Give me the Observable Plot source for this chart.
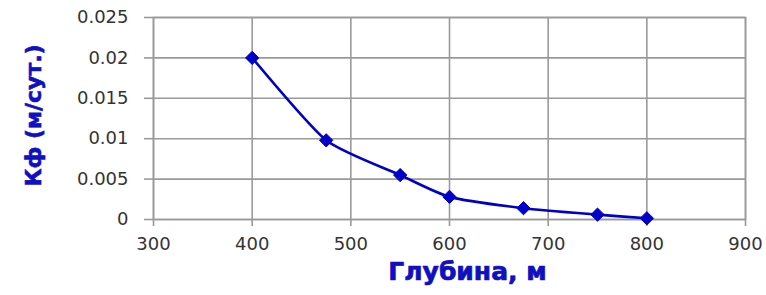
<!DOCTYPE html>
<html>
<head>
<meta charset="utf-8">
<script src="https://cdn.jsdelivr.net/npm/d3@7"></script>
<script src="https://cdn.jsdelivr.net/npm/@observablehq/plot@0.6"></script>
<style>
  html, body { margin: 0; padding: 0; background: #fff; }
</style>
</head>
<body>
<div id="chart"></div>
<script>
const depth = [400, 475, 550, 600, 675, 750, 800];
const kf = [0.02, 0.0098, 0.0055, 0.0028, 0.0014, 0.0006, 0.00015];
const xTicks = [300, 400, 500, 600, 700, 800, 900];
const yTicks = [0, 0.005, 0.01, 0.015, 0.02, 0.025];
const xLabel = "Глубина, м";
const yLabel = "Кф (м/сут.)";

const data = depth.map((d, i) => ({depth: d, kf: kf[i]}));
const gridColor = "#9a9a9a";
const blue = "#0000c8";
const labelBlue = "#1010c0";

const chart = Plot.plot({
  width: 766,
  height: 295,
  marginLeft: 153,
  marginRight: 21,
  marginTop: 17,
  marginBottom: 76,
  style: {fontFamily: "DejaVu Sans", fontSize: "18px", color: "#333", background: "#fff"},
  x: {domain: [300, 900]},
  y: {domain: [0, 0.025]},
  marks: [
    Plot.gridX(xTicks, {stroke: gridColor, strokeOpacity: 1, strokeWidth: 1.6}),
    Plot.gridY(yTicks, {stroke: gridColor, strokeOpacity: 1, strokeWidth: 1.6}),
    Plot.frame({stroke: gridColor, strokeWidth: 1.6}),
    Plot.axisX(xTicks, {tickSize: 7, tickPadding: 11, stroke: gridColor, strokeWidth: 1.6, fill: "#333", label: null, tickFormat: d => String(d)}),
    Plot.axisY(yTicks, {tickSize: 9, tickPadding: 16, stroke: gridColor, strokeWidth: 1.6, fill: "#333", label: null, tickFormat: d => String(+d.toFixed(3))}),
    Plot.line(data, {x: "depth", y: "kf", stroke: blue, strokeWidth: 2.6, curve: "cardinal", tension: 0.4}),
    Plot.dot(data, {x: "depth", y: "kf", symbol: "diamond2", r: 6, fill: blue, stroke: blue, strokeWidth: 1}),
    Plot.text([xLabel], {frameAnchor: "bottom", textAnchor: "middle", dy: 60, dx: 18, fontSize: 25, fontWeight: "bold", fill: labelBlue, fontFamily: "DejaVu Sans", stroke: labelBlue, strokeWidth: 0.7}),
    Plot.text([yLabel], {frameAnchor: "left", textAnchor: "middle", rotate: -90, dx: -120, dy: -3, fontSize: 22, fontWeight: "bold", fill: labelBlue, fontFamily: "DejaVu Sans", stroke: labelBlue, strokeWidth: 0.6})
  ]
});
document.getElementById("chart").appendChild(chart);
</script>
</body>
</html>
